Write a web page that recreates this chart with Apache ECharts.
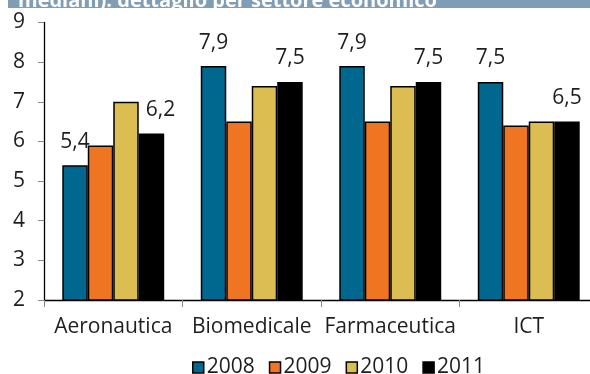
<!DOCTYPE html>
<html>
<head>
<meta charset="utf-8">
<script src="https://cdn.jsdelivr.net/npm/echarts@6/dist/echarts.min.js"></script>
<style>html,body{margin:0;padding:0;background:#fff}#c{width:590px;height:374px}</style>
</head>
<body>
<div id="c"></div>
<script>
const categories = ['Aeronautica', 'Biomedicale', 'Farmaceutica', 'ICT'];
const years = ['2008', '2009', '2010', '2011'];
const v2008 = [5.4, 7.9, 7.9, 7.5];
const v2009 = [5.9, 6.5, 6.5, 6.4];
const v2010 = [7.0, 7.4, 7.4, 6.5];
const v2011 = [6.2, 7.5, 7.5, 6.5];
const colors = ['#00678f', '#f07523', '#dbbd51', '#000000'];
const labelledYears = ['2008', '2011'];
const titleText = 'mediani): dettaglio per settore economico';

const FONT = '"Open Sans", sans-serif';
const TXT = '#1e1e1e';
const allValues = [v2008, v2009, v2010, v2011];

const series = years.map((y, i) => ({
  name: y,
  type: 'bar',
  barGap: '0%',
  barCategoryGap: '26.4%',
  itemStyle: { color: colors[i], borderColor: '#000', borderWidth: 1.5 },
  label: {
    show: labelledYears.includes(y),
    position: 'top',
    distance: 13,
    fontSize: 21,
    fontFamily: FONT,
    color: TXT,
    formatter: p => String(p.value).replace('.', ',')
  },
  data: allValues[i].map((v, j) => {
    if (y === '2011' && j === 0) return { value: v, label: { offset: [9, 0] } };
    return v;
  })
}));

const chart = echarts.init(document.getElementById('c'), null, { renderer: 'canvas' });
chart.setOption({
  animation: false,
  backgroundColor: '#fff',
  graphic: [
    { type: 'rect', shape: { x: 8, y: 0, width: 590, height: 8 }, style: { fill: '#7f9db5' }, z: 10 },
    { type: 'text', x: 18, y: 11, style: { text: titleText, fill: '#fff', font: 'bold 20px ' + FONT, textVerticalAlign: 'bottom' }, z: 11,
      clipPath: { type: 'rect', shape: { x: -30, y: -30, width: 700, height: 27 } } }
  ],
  grid: { left: 44, width: 554, top: 22.5, bottom: 74, containLabel: false, outerBoundsMode: 'none' },
  legend: {
    data: years,
    left: 187,
    top: 352,
    itemWidth: 11,
    itemHeight: 11,
    itemGap: 14,
    icon: 'rect',
    textStyle: { fontSize: 21, fontFamily: FONT, color: TXT, padding: [0, 0, 0, -2] },
    itemStyle: { borderColor: '#000', borderWidth: 1.5 }
  },
  xAxis: {
    type: 'category',
    data: categories,
    axisLine: { lineStyle: { color: '#000', width: 1.3 } },
    axisTick: { show: true, length: 7, lineStyle: { color: '#888' } },
    axisLabel: { interval: 0, fontSize: 21, fontFamily: FONT, color: TXT, margin: 17 }
  },
  yAxis: {
    type: 'value',
    min: 2, max: 9, interval: 1,
    splitLine: { show: false },
    axisLine: { show: true, lineStyle: { color: '#000', width: 1.3 } },
    axisTick: { show: true, length: 6, lineStyle: { color: '#888' } },
    axisLabel: { fontSize: 21, fontFamily: FONT, color: TXT, margin: 19 }
  },
  series
});
</script>
</body>
</html>
